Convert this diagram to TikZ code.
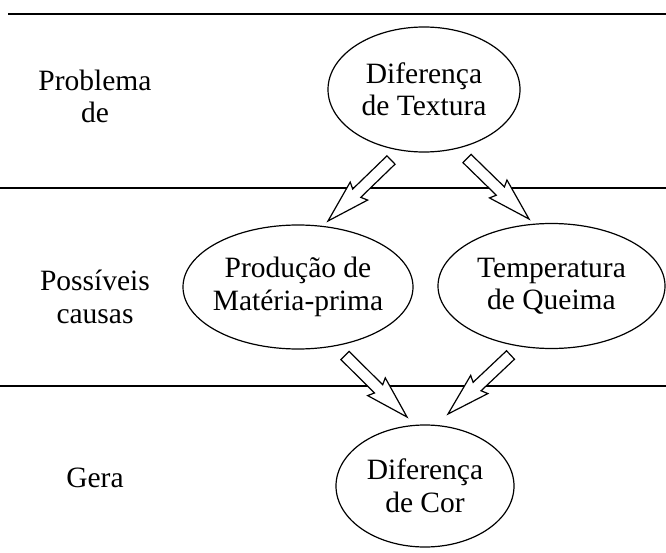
\documentclass[tikz,border=0pt]{standalone}
\usepackage{fontspec}
\setmainfont{Liberation Serif}
\usetikzlibrary{shapes.geometric,calc}
\tikzset{fig/.style={
    line width=1.2pt}}
\tikzset{rotulo/.style={
    font=\fontsize{29.5}{32.5}\selectfont,
    align=center}}
\tikzset{bolha/.style={
    ellipse,
    draw,
    inner xsep=-6pt,
    inner ysep=0pt}}
% seta larga e vazada, de #1 ate #2
\newcommand{\seta}[2]{%
  \coordinate (#1h) at ($(#2)!40pt!(#1)$);
  \coordinate (#1g) at ($(#2)!43pt!(#1)$);
  \draw[fig, line join=miter, fill=white]
    ($(#1)!5.8pt!90:(#2)$) --
    ($(#1h)!5.8pt!90:(#2)$) --
    ($(#1g)!12.5pt!90:(#2)$) --
    (#2) --
    ($(#1g)!12.5pt!-90:(#2)$) --
    ($(#1h)!5.8pt!-90:(#2)$) --
    ($(#1)!5.8pt!-90:(#2)$) -- cycle;}

\begin{document}
\begin{tikzpicture}[x=1pt,y=-1pt]
\useasboundingbox (0,0) rectangle (666,553);

% faixas
\draw[fig, line width=1.4pt] (8,14) -- (666,14);
\draw[fig, line width=1.4pt] (0,188) -- (666,188);
\draw[fig, line width=1.4pt] (0,386) -- (666,386);

\node[rotulo] (problema) at (95,96.5) {Problema\\de};
\node[rotulo] (causas) at (95,297) {Possíveis\\causas};
\node[rotulo] (gera) at (95,478) {Gera};

\node[fig, rotulo,
  bolha,
  minimum width=192pt,
  minimum height=125pt] (textura) at (424,89.5) {Diferença\\de Textura};

\node[fig, rotulo,
  bolha,
  minimum width=230pt,
  minimum height=124pt] (materia) at (298,287) {Produção de\\Matéria-prima};

\node[fig, rotulo,
  bolha,
  minimum width=227pt,
  minimum height=125pt] (queima) at (551.5,286) {Temperatura\\de Queima};

\node[fig, rotulo,
  bolha,
  minimum width=178pt,
  minimum height=122pt] (cor) at (425,486) {Diferença\\de Cor};

\coordinate (s1) at ($(textura)+(-33,70.5)$);
\coordinate (e1) at ($(materia)+(30,-66)$);
\coordinate (s2) at ($(textura)+(43,69)$);
\coordinate (e2) at ($(queima)+(-22.5,-67)$);
\coordinate (s3) at ($(materia)+(47,68.5)$);
\coordinate (e3) at ($(cor)+(-18,-69)$);
\coordinate (s4) at ($(queima)+(-41,69)$);
\coordinate (e4) at ($(cor)+(23,-72)$);

\seta{s1}{e1}
\seta{s2}{e2}
\seta{s3}{e3}
\seta{s4}{e4}

\end{tikzpicture}
\end{document}
